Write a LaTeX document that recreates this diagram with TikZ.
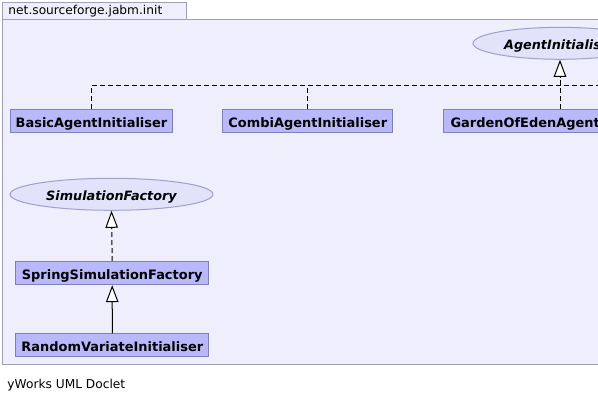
\documentclass[tikz,border=0pt]{standalone}
\usepackage{fontspec}
\setmainfont{DejaVu Sans}
\usetikzlibrary{shapes.geometric,arrows.meta}
\definecolor{framefill}{RGB}{238,238,252}
\definecolor{framedraw}{RGB}{160,160,180}
\definecolor{clsfill}{RGB}{184,184,250}
\definecolor{clsdraw}{RGB}{128,128,184}
\definecolor{ifacefill}{RGB}{226,226,250}
\definecolor{ifacedraw}{RGB}{160,160,200}
\tikzset{
  framebox/.style={draw=framedraw, fill=framefill, line width=1pt},
  clsbox/.style={draw=clsdraw, fill=clsfill, line width=1pt, inner sep=0pt,
    minimum height=23pt, text height=15pt, text depth=2pt,
    font=\fontsize{12.95}{14}\selectfont\bfseries},
  ifacebox/.style={ellipse, draw=ifacedraw, fill=ifacefill, line width=1pt, inner sep=0pt,
    minimum height=32pt, text height=14pt, text depth=2pt,
    font=\fontsize{12.8}{14}\selectfont\bfseries\itshape},
  plaintext/.style={anchor=base west, inner sep=0pt, font=\fontsize{12.2}{14}\selectfont},
  realize/.style={line width=1pt, dash pattern=on 5pt off 3pt},
  extends/.style={line width=1pt},
  hollow/.style={-{Triangle[open, length=17pt, width=12.5pt, fill=white]}}
}
\begin{document}
\begin{tikzpicture}[x=1pt,y=-1pt]
\useasboundingbox (0,0) rectangle (598,403);
\begin{scope}
\clip (0,0) rectangle (598,403);
\draw[framebox] (2.5,19.5) rectangle (720,365);
\draw[framebox] (2.5,2.5) rectangle (186,19.5);
\node[plaintext] (pkg) at (8.3,15) {net.sourceforge.jabm.init};

\node[ifacebox, minimum width=174pt] (agent) at (560,43.3) {AgentInitialiser};
\node[clsbox, minimum width=162pt] (basic) at (91.5,121.5) {BasicAgentInitialiser};
\node[clsbox, minimum width=170.3pt] (combi) at (307.8,121.5) {CombiAgentInitialiser};
\node[clsbox, minimum width=233pt] (garden) at (560,121.5) {GardenOfEdenAgentInitialiser};

\node[ifacebox, minimum width=203pt] (simf) at (111.5,194.3) {SimulationFactory};
\node[clsbox, minimum width=193pt] (spring) at (112.2,273.2) {SpringSimulationFactory};
\node[clsbox, minimum width=193.3pt] (random) at (112.3,345.5) {RandomVariateInitialiser};

\coordinate (busend) at (660,85.7);
\draw[realize] (basic.north) |- (busend);
\draw[realize] (combi.north) -- (combi.north |- busend);
\draw[realize, hollow] (garden.north) -- (agent.south);
\draw[realize, hollow] (spring.north) -- (simf.south);
\draw[extends, hollow] (random.north) -- (spring.south);

\node[plaintext] (doclet) at (7.3,389) {yWorks UML Doclet};
\end{scope}
\end{tikzpicture}
\end{document}
